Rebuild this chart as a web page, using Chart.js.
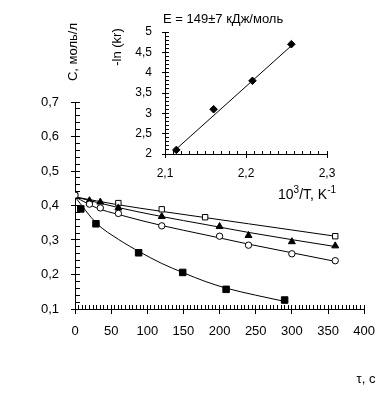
<!DOCTYPE html>
<html>
<head>
<meta charset="utf-8">
<script src="https://cdn.jsdelivr.net/npm/chart.js@4.4.0/dist/chart.umd.min.js"></script>
<style>
  html, body { margin: 0; padding: 0; background: #fff; }
  #wrap { position: relative; width: 390px; height: 396px; }
  #wrap canvas { position: absolute; left: 0; top: 0; }
</style>
</head>
<body>
<div id="wrap">
  <canvas id="mainChart" width="390" height="396"></canvas>
  <canvas id="insetChart" width="390" height="396"></canvas>
</div>
<script>
// main plot: concentration vs time, four runs
const timeOpenSq = [0, 60, 120, 180, 360];
const concOpenSq = [0.43, 0.407, 0.389, 0.366, 0.311];
const timeTri = [20, 35, 60, 120, 200, 240, 300, 360];
const concTri = [0.414, 0.41, 0.393, 0.368, 0.339, 0.313, 0.295, 0.283];
const timeCircle = [0, 20, 35, 60, 120, 200, 240, 300, 360];
const concCircle = [0.43, 0.404, 0.393, 0.377, 0.341, 0.311, 0.285, 0.26, 0.24];
const timeFilledSq = [8, 29, 88, 149, 209, 290];
const concFilledSq = [0.39, 0.347, 0.263, 0.206, 0.157, 0.126];

// fitted curves
const fitTimeOpenSq = [0, 60, 120, 180, 240, 300, 360];
const fitConcOpenSq = [0.425, 0.402, 0.383, 0.365, 0.347, 0.329, 0.311];
const fitTimeTri = [0, 60, 120, 180, 240, 300, 360];
const fitConcTri = [0.425, 0.394, 0.368, 0.345, 0.322, 0.301, 0.281];
const fitTimeCircle = [0, 30, 60, 120, 180, 240, 300, 360];
const fitConcCircle = [0.425, 0.393, 0.374, 0.342, 0.315, 0.288, 0.263, 0.238];
const fitTimeFilledSq = [0, 30, 60, 90, 120, 150, 180, 210, 250, 290];
const fitConcFilledSq = [0.425, 0.348, 0.302, 0.265, 0.232, 0.205, 0.18, 0.16, 0.14, 0.122];

// inset: Arrhenius plot
const invTemp = [2.114, 2.160, 2.208, 2.256];
const lnK = [2.1, 3.1, 3.8, 4.7];
const fitInvTemp = [2.111, 2.257];
const fitLnK = [2.07, 4.68];

const FONT = 'Liberation Sans, Arial, sans-serif';

function pts(xs, ys) {
  return xs.map((x, i) => ({ x: x, y: ys[i] }));
}
function comma(v, digits) {
  return Number(v).toFixed(digits).replace('.', ',');
}

function lineSet(xs, ys) {
  return {
    data: pts(xs, ys), showLine: true, pointRadius: 0,
    borderColor: '#000', borderWidth: 1, tension: 0.4,
    cubicInterpolationMode: 'monotone', order: 5
  };
}
function markerSet(xs, ys, style, radius, fill) {
  return {
    data: pts(xs, ys), showLine: false, pointStyle: style,
    pointRadius: radius, pointBackgroundColor: fill,
    pointBorderColor: '#000', pointBorderWidth: 1, order: 1
  };
}

// inward minor ticks, crossing major ticks; filled 1px rects on the axis pixel grid
function drawTicks(chart, xMinor, xEvery, yMinor, yEvery, len) {
  const ctx = chart.ctx, xs = chart.scales.x, ys = chart.scales.y;
  const a = chart.chartArea;
  const row0 = Math.round(a.bottom - 0.5), col0 = Math.round(a.left - 0.5);
  ctx.save();
  ctx.setTransform(1, 0, 0, 1, 0, 0);
  ctx.globalAlpha = 1;
  ctx.globalCompositeOperation = 'source-over';
  ctx.shadowBlur = 0;
  ctx.shadowColor = 'rgba(0,0,0,0)';
  ctx.fillStyle = '#000';
  const nx = Math.round((xs.max - xs.min) / xMinor);
  for (let i = 0; i <= nx; i++) {
    const col = Math.round(xs.getPixelForValue(xs.min + i * xMinor) - 0.5);
    const major = i % xEvery === 0;
    ctx.fillRect(col, row0 - len, 1, major ? 2 * len + 1 : len);
  }
  const ny = Math.round((ys.max - ys.min) / yMinor);
  for (let i = 0; i <= ny; i++) {
    const row = Math.round(ys.getPixelForValue(ys.min + i * yMinor) - 0.5);
    const major = i % yEvery === 0;
    if (major) ctx.fillRect(col0 - len, row, 2 * len + 1, 1);
    else ctx.fillRect(col0 + 1, row, len, 1);
  }
  ctx.restore();
}

const mainDeco = {
  id: 'mainDeco',
  afterDraw(chart) {
    const ctx = chart.ctx;
    ctx.save();
    ctx.fillStyle = '#000';
    ctx.font = '13px ' + FONT;
    ctx.textAlign = 'center';
    ctx.textBaseline = 'middle';
    ctx.fillText('τ, с', 366, 379);
    ctx.translate(73, 52);
    ctx.rotate(-Math.PI / 2);
    ctx.fillText('С, моль/л', 0, 0);
    ctx.restore();
    drawTicks(chart, 5, 10, 0.02, 5, 4);
  }
};

const insetDeco = {
  id: 'insetDeco',
  afterDraw(chart) {
    const ctx = chart.ctx;
    ctx.save();
    ctx.fillStyle = '#000';
    ctx.textBaseline = 'middle';
    ctx.textAlign = 'left';
    ctx.font = '13px ' + FONT;
    ctx.fillText('E = 149±7 кДж/моль', 163, 19);
    // 10^3/T, K^-1 with raised exponents
    let x = 278;
    const y = 195;
    const big = '14px ' + FONT, small = '10px ' + FONT;
    [['10', big, 0], ['3', small, -5], ['/T, K', big, 0], ['-1', small, -5]].forEach(p => {
      ctx.font = p[1];
      ctx.fillText(p[0], x, y + p[2]);
      x += ctx.measureText(p[0]).width;
    });
    ctx.font = '13px ' + FONT;
    ctx.textAlign = 'center';
    ctx.translate(117, 47);
    ctx.rotate(-Math.PI / 2);
    ctx.fillText('-ln (kr)', 0, 0);
    ctx.restore();
    drawTicks(chart, 0.01, 10, 0.1, 5, 3);
  }
};

new Chart(document.getElementById('mainChart'), {
  type: 'scatter',
  data: {
    datasets: [
      lineSet(fitTimeOpenSq, fitConcOpenSq),
      lineSet(fitTimeTri, fitConcTri),
      lineSet(fitTimeCircle, fitConcCircle),
      lineSet(fitTimeFilledSq, fitConcFilledSq),
      markerSet(timeFilledSq, concFilledSq, 'rect', 4.6, '#000'),
      markerSet(timeCircle, concCircle, 'circle', 3.2, '#fff'),
      markerSet(timeTri, concTri, 'triangle', 4, '#000'),
      markerSet(timeOpenSq, concOpenSq, 'rect', 3.8, '#fff')
    ]
  },
  options: {
    responsive: false,
    animation: false,
    layout: { padding: { left: 0, top: 102, right: 20, bottom: 57 } },
    plugins: { legend: { display: false }, tooltip: { enabled: false } },
    scales: {
      x: {
        type: 'linear', min: 0, max: 400,
        afterFit(s) { s.height = 30; },
        grid: { display: false, drawTicks: false },
        border: { color: '#000' },
        ticks: { stepSize: 50, padding: 15, maxRotation: 0, color: '#000',
                 font: { family: FONT, size: 13 } }
      },
      y: {
        type: 'linear', min: 0.1, max: 0.7,
        afterFit(s) { s.width = 75; },
        grid: { display: false, drawTicks: false },
        border: { color: '#000' },
        ticks: { stepSize: 0.1, padding: 16, color: '#000',
                 font: { family: FONT, size: 13 },
                 callback: v => comma(v, 1) }
      }
    }
  },
  plugins: [mainDeco]
});

new Chart(document.getElementById('insetChart'), {
  type: 'scatter',
  data: {
    datasets: [
      {
        data: pts(fitInvTemp, fitLnK), showLine: true, pointRadius: 0,
        borderColor: '#000', borderWidth: 1, order: 5
      },
      markerSet(invTemp, lnK, 'rectRot', 3.8, '#000')
    ]
  },
  options: {
    responsive: false,
    animation: false,
    layout: { padding: { left: 120, top: 32, right: 63, bottom: 212 } },
    plugins: { legend: { display: false }, tooltip: { enabled: false } },
    scales: {
      x: {
        type: 'linear', min: 2.1, max: 2.3,
        afterFit(s) { s.height = 30; },
        grid: { display: false, drawTicks: false },
        border: { color: '#000' },
        ticks: { stepSize: 0.1, padding: 12, maxRotation: 0, color: '#000',
                 font: { family: FONT, size: 12 },
                 callback: v => comma(v, 1) }
      },
      y: {
        type: 'linear', min: 2, max: 5,
        afterFit(s) { s.width = 45; },
        grid: { display: false, drawTicks: false },
        border: { color: '#000' },
        ticks: { stepSize: 0.5, padding: 13, color: '#000',
                 font: { family: FONT, size: 12 },
                 callback: v => (Number.isInteger(v) ? String(v) : comma(v, 1)) }
      }
    }
  },
  plugins: [insetDeco]
});
</script>
</body>
</html>
